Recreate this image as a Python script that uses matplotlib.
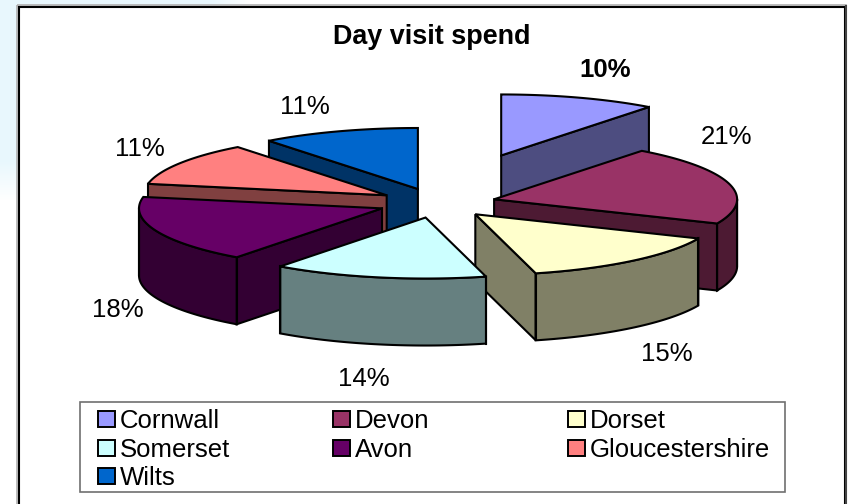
import numpy as np
import matplotlib
matplotlib.use('Agg')
import matplotlib.pyplot as plt
from matplotlib.colors import to_rgb
from matplotlib.patches import Rectangle

plt.rcParams['font.family'] = ['Liberation Sans', 'DejaVu Sans']

# share of day visit spend (labels are the rounded ones)
regions = ['Cornwall', 'Devon', 'Dorset', 'Somerset', 'Avon', 'Gloucestershire', 'Wilts']
values = [10.4, 21.1, 14.5, 14.2, 17.8, 11.5, 10.5]
labels = ['10%', '21%', '15%', '14%', '18%', '11%', '11%']
colors = ['#9999FF', '#993366', '#FFFFCC', '#CCFFFF', '#660066', '#FF8080', '#0066CC']
explode = [200, 59, 59, 59, 59, 59, 59]
label_pos = [(605, 70), (727, 137), (667, 354), (364, 379), (118, 310), (140, 149), (305, 107)]

# pie geometry, everything in pixels of the 848x504 picture
cx, cy = 437, 203
radius = 243
squash = 0.251
depth = 67
# back slices first so the front ones cover them
draw_order = [0, 6, 5, 1, 4, 2, 3]

fig = plt.figure(figsize=(8.48, 5.04), dpi=100)
ax = fig.add_axes([0, 0, 1, 1])
ax.set_xlim(0, 848)
ax.set_ylim(504, 0)
ax.axis('off')

# slide background behind the chart: pale blue corner fading out
xx, yy = np.meshgrid(np.arange(848), np.arange(504))
fade = np.clip((250 - xx) / 40, 0, 1) * np.clip((200 - yy) / 40, 0, 1)
grad = 1 - fade[..., None] * (1 - np.array(to_rgb('#E8F7FD')))
ax.imshow(grad, extent=(0, 848, 504, 0), aspect='auto', zorder=0)
ax.add_patch(Rectangle((17, 5), 829, 520, fc='none', ec='#B0B0B0', lw=1.2, zorder=1))
ax.add_patch(Rectangle((18.5, 6.5), 826.5, 520, fc='white', ec='black', lw=1.5, zorder=1))
ax.plot([846, 846], [6, 504], color='#444444', lw=1.5, zorder=1)


def wall_color(c):
    return tuple(v * 0.5 for v in to_rgb(c))


def point(x0, y0, theta):
    return x0 + radius * np.sin(theta), y0 - radius * squash * np.cos(theta)


shares = np.array(values) / sum(values) * 2 * np.pi
ends = np.cumsum(shares)
starts = ends - shares
z = 2
for i in draw_order:
    t1, t2 = starts[i], ends[i]
    mid = (t1 + t2) / 2
    x0 = cx + explode[i] * np.sin(mid)
    y0 = cy - explode[i] * squash * np.cos(mid)
    top = colors[i]
    side = wall_color(top)
    style = dict(ec='black', lw=1.5, joinstyle='miter', zorder=z)

    # flat walls of the cut, only those facing the viewer
    for t, show in ((t1, np.sin(t1) < -1e-6), (t2, np.sin(t2) > 1e-6)):
        if show:
            px, py = point(x0, y0, t)
            ax.fill([x0, px, px, x0], [y0, py, py + depth, y0 + depth], fc=side, **style)

    # outer curved wall, front half of the circle only
    a, b = max(t1, np.pi / 2), min(t2, 3 * np.pi / 2)
    if a < b:
        th = np.linspace(a, b, 80)
        px, py = point(x0, y0, th)
        ax.fill(np.r_[px, px[::-1]], np.r_[py, py[::-1] + depth], fc=side, **style)
        # corner edge where the curved wall meets the flat wall
        for t in (a, b):
            ex, ey = point(x0, y0, t)
            ax.plot([ex, ex], [ey, ey + depth], color='black', lw=1.5, zorder=z)

    # top face
    th = np.linspace(t1, t2, 120)
    px, py = point(x0, y0, th)
    ax.fill(np.r_[x0, px], np.r_[y0, py], fc=top, **style)
    z += 1

# value labels
for i, lab in enumerate(labels):
    ax.text(label_pos[i][0], label_pos[i][1], lab, ha='center', va='center', fontsize=18.5,
            fontweight='bold' if i == 0 else 'normal', color='black', zorder=20)

ax.text(431.5, 36.5, 'Day visit spend', ha='center', va='center', fontsize=19.4, fontweight='bold', zorder=20)

# legend box, three columns filled row by row
ax.add_patch(Rectangle((79.5, 402), 705, 90, fc='white', ec='#707070', lw=1.2, zorder=20))
col_x = [98, 333, 568]
row_y = [418.5, 447.5, 475.5]
for i, name in enumerate(regions):
    r, c = divmod(i, 3)
    ax.add_patch(Rectangle((col_x[c], row_y[r] - 8), 16.5, 16.5, fc=colors[i], ec='black', lw=1.4, zorder=21))
    ax.text(col_x[c] + 22, row_y[r], name, ha='left', va='center_baseline', fontsize=18.5, zorder=21)

plt.savefig('out.png', dpi=100)
